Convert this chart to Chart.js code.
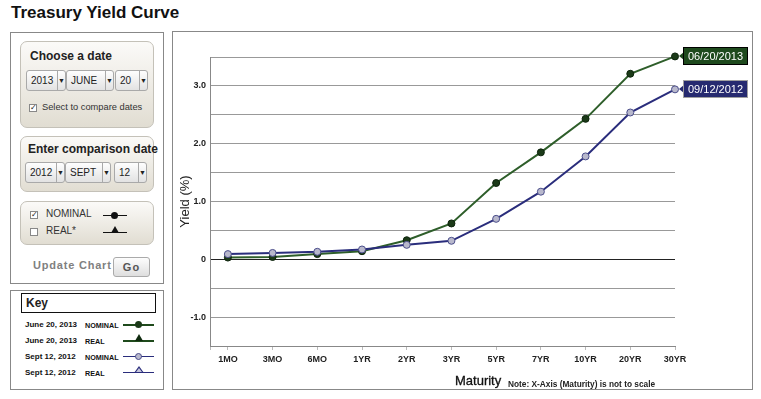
<!DOCTYPE html>
<html>
<head>
<meta charset="utf-8">
<script src="https://cdn.jsdelivr.net/npm/chart.js@4.4.1/dist/chart.umd.min.js"></script>
<style>
body { margin: 0; background: #fff; font-family: Arial, "Liberation Sans", sans-serif; color: #222; }
.abs { position: absolute; }
h1 { position: absolute; left: 11px; top: 3px; margin: 0; font-size: 17px; font-weight: bold; color: #111; }
.panel { position: absolute; box-sizing: border-box; border: 1px solid #888; }
.card { position: absolute; box-sizing: border-box; border: 1px solid #c4c1b8; border-radius: 7px;
  background: linear-gradient(#fbfaf8, #e1ddd2); }
.cardtitle { position: absolute; left: 9px; font-size: 12px; font-weight: bold; color: #222; white-space: nowrap; }
.sel { position: absolute; box-sizing: border-box; height: 21px; border: 1px solid #a9a9a9; border-radius: 3px;
  background: linear-gradient(#fefefe, #e2e2e2); font-size: 10px; line-height: 19px; color: #222; }
.sel .t { position: absolute; left: 4px; top: 0; }
.sel .a { position: absolute; right: 0; top: 0; width: 7px; height: 19px; border-left: 1px solid #a9a9a9;
  font-size: 7px; text-align: center; line-height: 19px; }
.chk { position: absolute; box-sizing: border-box; width: 8px; height: 8px; border: 1px solid #888; background: #fff;
  font-size: 8px; line-height: 6px; text-align: center; color: #222; }
.lbl { position: absolute; font-size: 10px; color: #333; white-space: nowrap; }
.sym { position: absolute; height: 1px; background: #111; }
.dot { position: absolute; width: 7px; height: 7px; border-radius: 50%; background: #111; }
.tri { position: absolute; width: 0; height: 0; border-left: 4px solid transparent; border-right: 4px solid transparent; border-bottom: 7px solid #111; }
.key { position: absolute; font-size: 8px; font-weight: bold; color: #111; white-space: nowrap; }
</style>
</head>
<body>
<h1>Treasury Yield Curve</h1>

<div class="panel" style="left:10px;top:32px;width:154px;height:252px;"></div>

<div class="card" style="left:20px;top:41px;width:134px;height:87px;">
  <div class="cardtitle" style="top:7px;">Choose a date</div>
</div>
<div class="sel" style="left:26px;top:70px;width:40px;"><span class="t">2013</span><span class="a">&#9660;</span></div>
<div class="sel" style="left:66px;top:70px;width:48px;"><span class="t">JUNE</span><span class="a">&#9660;</span></div>
<div class="sel" style="left:115px;top:70px;width:33px;"><span class="t">20</span><span class="a">&#9660;</span></div>
<div class="chk" style="left:29px;top:104px;">&#10003;</div>
<div class="lbl" style="left:42px;top:102px;font-size:9.3px;">Select to compare dates</div>

<div class="card" style="left:20px;top:136px;width:134px;height:56px;">
  <div class="cardtitle" style="left:7px;top:5px;">Enter comparison date</div>
</div>
<div class="sel" style="left:25px;top:162px;width:40px;"><span class="t">2012</span><span class="a">&#9660;</span></div>
<div class="sel" style="left:65px;top:162px;width:46px;"><span class="t">SEPT</span><span class="a">&#9660;</span></div>
<div class="sel" style="left:114px;top:162px;width:33px;"><span class="t">12</span><span class="a">&#9660;</span></div>

<div class="card" style="left:20px;top:201px;width:134px;height:44px;"></div>
<div class="chk" style="left:30px;top:211px;">&#10003;</div>
<div class="lbl" style="left:46px;top:208px;">NOMINAL</div>
<div class="sym" style="left:103px;top:215px;width:24px;"></div>
<div class="dot" style="left:111px;top:212px;"></div>
<div class="chk" style="left:30px;top:228px;"></div>
<div class="lbl" style="left:46px;top:225px;">REAL*</div>
<div class="sym" style="left:103px;top:232px;width:24px;"></div>
<div class="tri" style="left:111px;top:226px;"></div>

<div class="abs" style="left:33px;top:259px;font-size:11px;font-weight:bold;color:#808080;letter-spacing:0.8px;">Update Chart</div>
<div class="abs" style="left:113px;top:257px;width:37px;height:20px;box-sizing:border-box;border:1px solid #aaa;border-radius:3px;
  background:linear-gradient(#fdfdfd,#dedede);font-size:11px;font-weight:bold;color:#555;text-align:center;line-height:18px;letter-spacing:1px;">Go</div>

<div class="panel" style="left:10px;top:290px;width:154px;height:100px;"></div>
<div class="abs" style="left:21px;top:293px;width:135px;height:20px;box-sizing:border-box;border:1px solid #111;
  font-size:12px;font-weight:bold;line-height:18px;padding-left:4px;">Key</div>

<div class="key" style="left:25px;top:320px;">June 20, 2013</div><div class="key" style="left:85px;top:320.5px;font-size:7.2px;">NOMINAL</div>
<div class="sym" style="left:123px;top:324px;width:31px;height:2px;background:#1f4a1c;"></div>
<div class="dot" style="left:135px;top:321px;background:#1b3a18;"></div>
<div class="key" style="left:25px;top:336px;">June 20, 2013</div><div class="key" style="left:85px;top:336.5px;font-size:7.2px;">REAL</div>
<div class="sym" style="left:123px;top:340px;width:31px;height:2px;background:#1f4a1c;"></div>
<div class="tri" style="left:135px;top:334px;border-bottom-color:#0f2a0e;"></div>
<div class="key" style="left:25px;top:352px;">Sept 12, 2012</div><div class="key" style="left:85px;top:352.5px;font-size:7.2px;">NOMINAL</div>
<div class="sym" style="left:123px;top:356px;width:31px;background:#2a2d7c;"></div>
<div class="dot" style="left:135px;top:353px;box-sizing:border-box;background:#b8b8cc;border:1px solid #4a4d8a;"></div>
<div class="key" style="left:25px;top:368px;">Sept 12, 2012</div><div class="key" style="left:85px;top:369px;font-size:7.2px;">REAL</div>
<div class="sym" style="left:123px;top:372px;width:31px;background:#2a2d7c;"></div>
<div class="abs" style="left:134px;top:366px;width:0;height:0;border-left:5px solid transparent;border-right:5px solid transparent;border-bottom:7px solid #2a2d7c;"></div>
<div class="abs" style="left:136px;top:368px;width:0;height:0;border-left:3px solid transparent;border-right:3px solid transparent;border-bottom:4px solid #c8c8dc;"></div>

<div class="panel" style="left:172px;top:31px;width:581px;height:359px;"></div>
<canvas id="grafikYield" width="579" height="357" style="position:absolute;left:173px;top:32px;"></canvas>
<div class="abs" style="left:455px;top:373px;font-size:13px;color:#111;-webkit-text-stroke:0.3px #111;">Maturity</div>
<div class="abs" style="left:508px;top:379px;font-size:8.3px;font-weight:bold;color:#222;white-space:nowrap;">Note: X-Axis (Maturity) is not to scale</div>

<script>
const maturities = ['1MO', '3MO', '6MO', '1YR', '2YR', '3YR', '5YR', '7YR', '10YR', '20YR', '30YR'];
const yieldJun2013 = [0.03, 0.04, 0.09, 0.14, 0.33, 0.62, 1.32, 1.85, 2.43, 3.21, 3.51];
const yieldSep2012 = [0.09, 0.11, 0.13, 0.17, 0.25, 0.32, 0.70, 1.17, 1.78, 2.54, 2.94];
const seriesDates = ['06/20/2013', '09/12/2012'];
const yTickValues = [3, 2, 1, 0, -1];
const yTickLabels = ['3.0', '2.0', '1.0', '0', '-1.0'];

function toPoints(vals) {
    return vals.map((v, i) => ({ x: i, y: v }));
}

// date boxes at the end of each line
const endLabels = {
    id: 'endLabels',
    afterDatasetsDraw(chart) {
        const c = chart.ctx;
        chart.data.datasets.forEach((ds, i) => {
            const meta = chart.getDatasetMeta(i);
            const pt = meta.data[meta.data.length - 1];
            const x = Math.round(pt.x) + 8;
            const y = Math.round(pt.y);
            const w = 65, h = 18;
            c.save();
            c.fillStyle = ds.tagColor;
            c.beginPath();
            c.moveTo(x - 4, y);
            c.lineTo(x + 1, y - 4);
            c.lineTo(x + 1, y + 4);
            c.closePath();
            c.fill();
            c.fillRect(x, y - h / 2, w, h);
            c.strokeStyle = ds.tagBorder;
            c.lineWidth = 1;
            c.strokeRect(x + 0.5, y - h / 2 + 0.5, w - 1, h - 1);
            c.fillStyle = '#fff';
            c.font = '11px Arial';
            c.textAlign = 'center';
            c.textBaseline = 'middle';
            c.fillText(ds.label, x + w / 2, y + 1);
            c.restore();
        });
    }
};

const ctx = document.getElementById('grafikYield').getContext('2d');
const chart = new Chart(ctx, {
    type: 'line',
    data: {
        datasets: [{
            label: seriesDates[1],
            data: toPoints(yieldSep2012),
            borderColor: '#2a2d7c',
            borderWidth: 2,
            pointRadius: 3.5,
            pointBackgroundColor: '#b8b8cc',
            pointBorderColor: '#4a4d8a',
            pointBorderWidth: 1,
            tagColor: '#262a70',
            tagBorder: '#a0a0a0',
            order: 0,
            clip: false
        }, {
            label: seriesDates[0],
            data: toPoints(yieldJun2013),
            borderColor: '#2e5e2a',
            borderWidth: 2,
            pointRadius: 3.5,
            pointBackgroundColor: '#1b3a18',
            pointBorderColor: '#0c220b',
            pointBorderWidth: 1,
            tagColor: '#1e4a1d',
            tagBorder: '#000',
            order: 1,
            clip: false
        }]
    },
    options: {
        responsive: false,
        animation: false,
        layout: { padding: { top: 25, right: 77, left: 0, bottom: 0 } },
        plugins: {
            legend: { display: false },
            tooltip: { enabled: false }
        },
        scales: {
            x: {
                type: 'linear',
                min: -0.4,
                max: 10,
                afterBuildTicks: (scale) => {
                    scale.ticks = [{ value: -0.4 }].concat(maturities.map((m, i) => ({ value: i })));
                },
                afterFit: (scale) => { scale.height = 43; },
                grid: { drawOnChartArea: false, tickLength: 4, color: '#bbb' },
                border: { color: '#888' },
                ticks: {
                    autoSkip: false,
                    maxRotation: 0,
                    padding: 4,
                    color: '#222',
                    font: { family: 'Arial', size: 9, weight: 'bold' },
                    callback: (v) => maturities[v] !== undefined ? maturities[v] : ''
                }
            },
            y: {
                min: -1.5,
                max: 3.5,
                afterFit: (scale) => { scale.width = 37; },
                grid: {
                    drawTicks: false,
                    color: (c) => c.tick && c.tick.value === 0 ? '#222' : '#999'
                },
                border: { color: '#888' },
                ticks: {
                    stepSize: 0.5,
                    padding: 4,
                    color: '#222',
                    font: { family: 'Arial', size: 9, weight: 'bold' },
                    callback: (v) => {
                        const k = yTickValues.findIndex(t => Math.abs(t - v) < 1e-6);
                        return k >= 0 ? yTickLabels[k] : '';
                    }
                },
                title: {
                    display: true,
                    text: 'Yield (%)',
                    color: '#222',
                    font: { family: 'Arial', size: 13 },
                    padding: { top: 5, bottom: 0 }
                }
            }
        }
    },
    plugins: [endLabels]
});
</script>
</body>
</html>
